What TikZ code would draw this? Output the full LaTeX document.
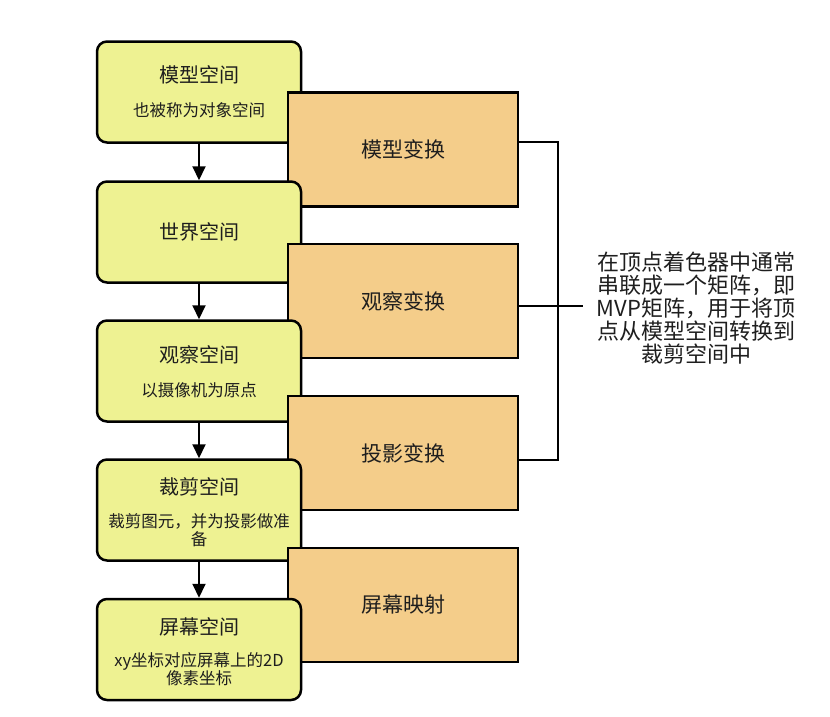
\documentclass[tikz,border=0pt]{standalone}
\usepackage{fontspec}
\setmainfont{Noto Sans CJK SC}
\usetikzlibrary{arrows.meta, calc}

\definecolor{spacefill}{RGB}{238,242,146}
\definecolor{stepfill}{RGB}{244,205,138}
\definecolor{inktext}{RGB}{30,30,30}

\begin{document}
\begin{tikzpicture}[x = 1pt, y = -1pt,
    spacebox/.style = {draw, line width = 2.5pt, fill = spacefill, rounded corners = 10pt,
      minimum width = 204pt, minimum height = 101pt, inner sep = 0pt},
    stepbox/.style = {draw, line width = 2.5pt, fill = stepfill, minimum width = 230pt,
      minimum height = 114pt, inner sep = 0pt, text = inktext, font = \fontsize{21}{25}\selectfont},
    spacetitle/.style = {inner sep = 0pt, text = inktext, font = \fontsize{20}{24}\selectfont},
    spacenote/.style = {inner sep = 0pt, text = inktext, align = center, font = \fontsize{16.5}{18}\selectfont}]
        \useasboundingbox (0,0) rectangle (830,716);

        % spaces and transforms, drawn in turn so that each box covers the one before
        \node[spacebox] (y1) at (199, 92) {};
        \node[spacetitle] (t1) at (199, 75) {模型空间};
        \node[spacenote] (n1) at (199, 110) {也被称为对象空间};

        \node[stepbox] (o1) at (403, 149.5) {模型变换};

        \node[spacebox] (y2) at (199, 232) {};
        \node[spacetitle] (t2) at (199, 232) {世界空间};

        \node[stepbox] (o2) at (403, 301) {观察变换};

        \node[spacebox] (y3) at (199, 371) {};
        \node[spacetitle] (t3) at (199, 355) {观察空间};
        \node[spacenote] (n3) at (199, 390) {以摄像机为原点};

        \node[stepbox] (o3) at (403, 453) {投影变换};

        \node[spacebox] (y4) at (199, 510) {};
        \node[spacetitle] (t4) at (199, 487) {裁剪空间};
        \node[spacenote] (n4) at (199, 530.5) {裁剪图元，并为投影做准\\备};

        \node[stepbox] (o4) at (403, 605) {屏幕映射};

        \node[spacebox] (y5) at (199, 649.5) {};
        \node[spacetitle] (t5) at (199, 627) {屏幕空间};
        \node[spacenote] (n5) at (199, 669.5) {xy坐标对应屏幕上的2D\\像素坐标};

        % arrows between the spaces
        \foreach \a/\b in {y1/y2, y2/y3, y3/y4, y4/y5} {
          \draw[line width = 2pt, -{Triangle[width = 13pt, length = 14pt]}] (\a.south) -- (\b.north);
        };

        % bracket over the three transforms
        \draw[line width = 2pt] ([yshift = 7.5pt]o1.east) -| ([xshift = 39pt]o2.east) |- ([yshift = -7pt]o3.east);
        \coordinate (tap) at (583, 306);
        \draw[line width = 2pt] (o2.east |- tap) -- (tap);

        \node[inner sep = 0pt, text = inktext, align = center, font = \fontsize{22}{23}\selectfont] (mvp) at (696, 308)
          {在顶点着色器中通常\\串联成一个矩阵，即\\MVP矩阵，用于将顶\\点从模型空间转换到\\裁剪空间中};
\end{tikzpicture}
\end{document}
